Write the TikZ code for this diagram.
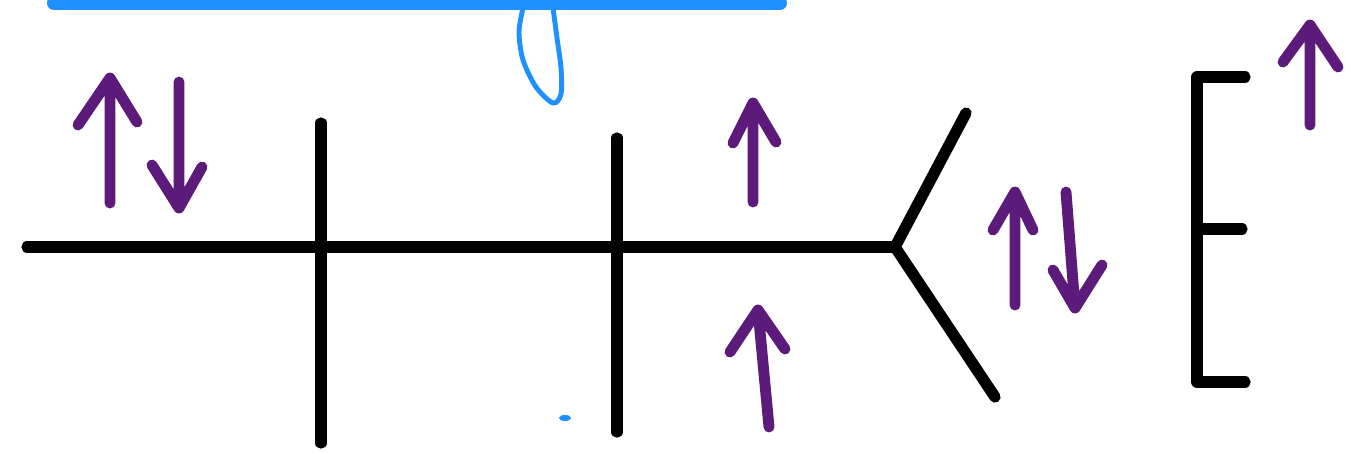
\documentclass[tikz,border=0pt]{standalone}
\definecolor{spinpurple}{RGB}{92,26,123}
\definecolor{penblue}{RGB}{30,144,255}
\begin{document}
\begin{tikzpicture}[x=0.01cm,y=-0.01cm]
\tikzset{
  bond/.style={line width=3.2pt,line cap=round,line join=round,black},
  spin/.style={line width=3.1pt,line cap=round,line join=round,spinpurple},
  pen/.style={line width=1.4pt,line cap=round,line join=round,penblue}
}
\useasboundingbox (0,0) rectangle (1351,453);
% blue marks
\draw[pen,line width=4pt] (54,3) -- (780,3);
\draw[pen] plot[smooth] coordinates {(523,8) (519,32) (523,60) (536,87) (553,103) (561,94) (561,68) (557,38) (553,8)};
\fill[penblue] (565,418) ellipse (6 and 3);
% chain
\coordinate (c_L) at (27,247);
\coordinate (c_Y) at (895,247);
\draw[bond] (c_L) -- (c_Y);
\draw[bond] (321,123) -- (321,443);
\draw[bond] (617,138) -- (617,432);
\draw[bond] (966,113) -- (c_Y) -- (995,397);
% bracket
\draw[bond] (1245,77) -- (1197,77) -- (1197,382) -- (1245,382);
\draw[bond] (1197,229) -- (1242,229);
% spins
\draw[spin] (78,125) -- (110,78) -- (137,122) (110,78) -- (110,203);
\draw[spin] (179,82) -- (179,208) (152,165) -- (179,208) -- (202,167);
\draw[spin] (733,143) -- (753,103) -- (776,142) (753,103) -- (753,202);
\draw[spin] (730,352) -- (758,310) -- (785,349) (758,310) -- (769,427);
\draw[spin] (993,230) -- (1015,192) -- (1033,230) (1015,192) -- (1015,305);
\draw[spin] (1066,192) -- (1075,308) (1053,270) -- (1075,308) -- (1102,265);
\draw[spin] (1283,62) -- (1310,25) -- (1338,67) (1310,25) -- (1310,125);
\end{tikzpicture}
\end{document}
